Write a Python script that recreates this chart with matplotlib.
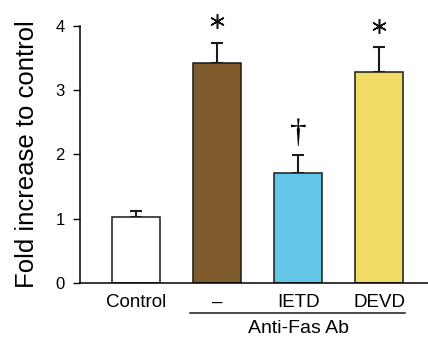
import matplotlib
matplotlib.use("Agg")
import matplotlib.pyplot as plt
import matplotlib.transforms as mtransforms

categories = ["Control", "\u2013", "IETD", "DEVD"]
values = [1.02, 3.43, 1.71, 3.28]
errors = [0.10, 0.31, 0.28, 0.39]
colors = ["#ffffff", "#7f5a2a", "#63c6e6", "#efdb66"]
marks = ["", "*", "\u2020", "*"]
group_label = "Anti-Fas Ab"

plt.rcParams['font.family'] = ['Liberation Sans', 'DejaVu Sans']

fig = plt.figure(figsize=(4.28, 3.38), dpi=100)
ax = fig.add_axes([80/428, 1-282.7/338, 1-80/428, (282.7-26)/338])

x = list(range(len(categories)))
ax.bar(x, values, width=0.59, color=colors, edgecolor="#1a1a1a", linewidth=1.1, zorder=2)
ax.errorbar(x, values, yerr=[[0]*4, errors], fmt="none", ecolor="#1a1a1a",
            elinewidth=1.5, capsize=4, capthick=1.5, zorder=1)

star_tr = mtransforms.offset_copy(ax.transData, fig=fig, x=0, y=15.5, units="points")
for xi, v, e, m in zip(x, values, errors, marks):
    if m == "*":
        ax.plot([xi], [v + e], marker=(6, 2, 0), markersize=10.5, mew=1.1,
                color="#111111", transform=star_tr, clip_on=False)
    elif m:
        ax.annotate(m, (xi, v + e), xytext=(0, 4), textcoords="offset points",
                    ha="center", va="bottom", fontsize=24,
                    family=["Liberation Serif", "DejaVu Serif"], annotation_clip=False)

ax.set_xlim(-0.69, 3.6)
ax.set_ylim(0, 4)
ax.set_yticks([0, 1, 2, 3, 4])
ax.tick_params(axis="y", direction="out", length=5, width=1, labelsize=12, pad=6)
ax.set_xticks(x)
ax.set_xticklabels(categories, fontsize=13.5)
ax.tick_params(axis="x", length=0, pad=8)
for s in ["top", "right"]:
    ax.spines[s].set_visible(False)
ax.spines["left"].set_linewidth(1.1)
ax.spines["bottom"].set_linewidth(1.1)
ax.set_ylabel("Fold increase to control", fontsize=18.5, labelpad=12)

ax.plot([0.67, 3.32], [-0.47, -0.47], color="#1a1a1a", linewidth=1.1, clip_on=False)
ax.text(2.0, -0.72, group_label, ha="center", va="center", fontsize=14)

fig.savefig("out.png", dpi=100)
